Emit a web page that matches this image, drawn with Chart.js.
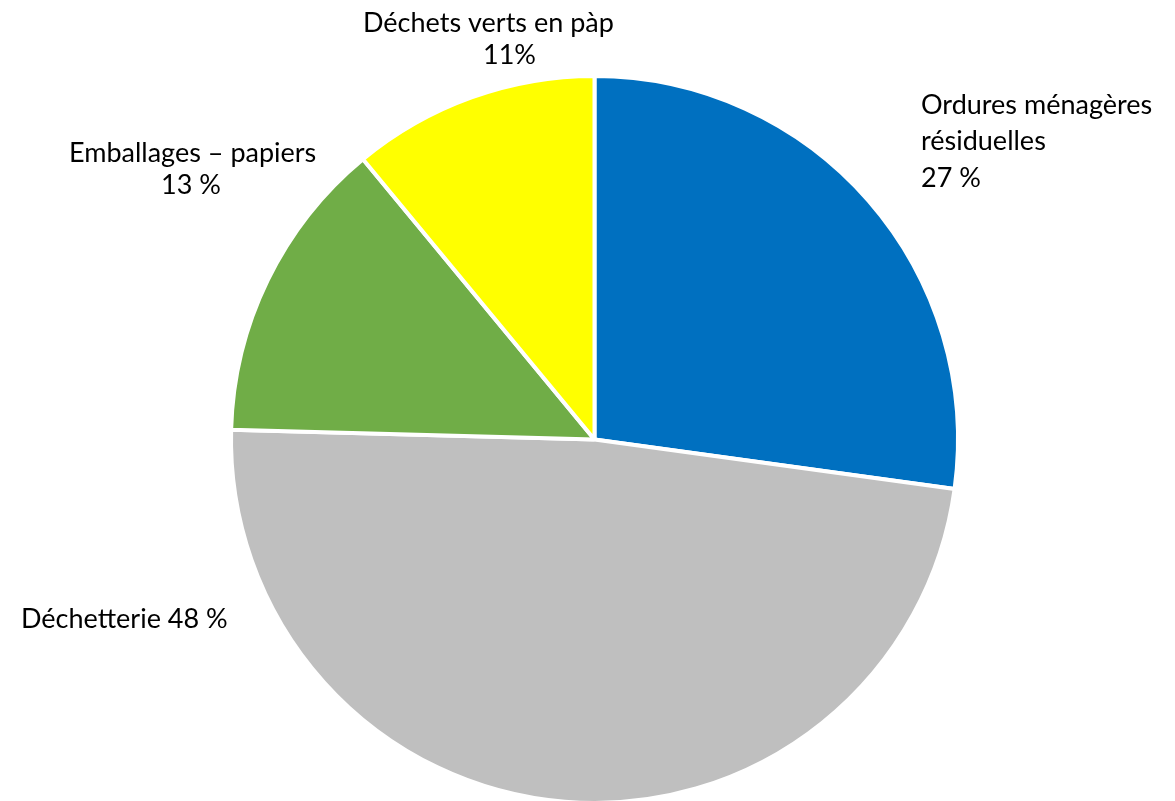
<!DOCTYPE html>
<html>
<head>
<meta charset="utf-8">
<script src="https://cdn.jsdelivr.net/npm/chart.js@4"></script>
<style>
  html, body { margin: 0; padding: 0; background: #fff; overflow: hidden; }
  #wrap { width: 1175px; height: 801px; overflow: hidden; }
</style>
</head>
<body>
<div id="wrap"><canvas id="pie" width="1175" height="810"></canvas></div>
<script>
// data
let categories = ["Ordures ménagères résiduelles", "Déchetterie", "Emballages – papiers", "Déchets verts en pàp"]
let values = [27.2, 48.3, 13.6, 11.0]
let colors = ["#0070C0", "#BFBFBF", "#70AD47", "#FFFF00"]

// label lines as printed on the chart
let labelLines = [
	["Ordures ménagères", "résiduelles", "27 %"],
	["Déchetterie 48 %"],
	["Emballages – papiers", "13 %"],
	["Déchets verts en pàp", "11%"]
]

// left x and baseline y of each label line
let labelPos = [
	[[921, 114], [921, 150], [921, 187]],
	[[21, 628]],
	[[69, 162], [161, 194]],
	[[363, 32], [483, 64]]
]

const labelPlugin = {
	id: "sliceLabels",
	afterDraw(chart) {
		const ctx = chart.ctx
		ctx.save()
		ctx.fillStyle = "#000"
		ctx.font = "27px Lato, 'Open Sans', sans-serif"
		ctx.textBaseline = "alphabetic"
		ctx.textAlign = "left"
		for (let i = 0; i < labelLines.length; i++) {
			for (let j = 0; j < labelLines[i].length; j++) {
				let p = labelPos[i][j]
				ctx.fillText(labelLines[i][j], p[0], p[1])
			}
		}
		ctx.restore()
	}
}

new Chart("pie", {
	type: "pie",
	data: {
		labels: categories,
		datasets: [{
			data: values,
			backgroundColor: colors,
			borderColor: "#fff",
			borderWidth: 4
		}]
	},
	options: {
		responsive: false,
		animation: false,
		layout: { padding: { left: 229, right: 215, top: 74, bottom: 5 } },
		plugins: {
			legend: { display: false },
			tooltip: { enabled: false }
		}
	},
	plugins: [labelPlugin]
})
</script>
</body>
</html>
